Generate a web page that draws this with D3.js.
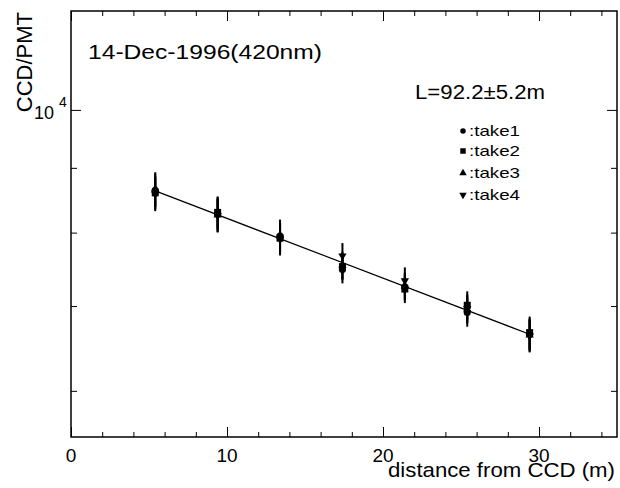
<!DOCTYPE html>
<html>
<head>
<meta charset="utf-8">
<script src="https://cdn.jsdelivr.net/npm/d3@7"></script>
<style>
  body{margin:0;background:#fff;}
  text{font-family:"Liberation Sans",Arial,Helvetica,sans-serif;fill:#000;}
</style>
</head>
<body>
<div id="chart"></div>
<script>
// distances (m) and CCD/PMT ratio for the four takes
const distances=[5.4,9.4,13.4,17.4,21.4,25.4,29.4];
const take1=[8640,8280,7950,7480,7250,6920,6650];
const take2=[8600,8300,7920,7520,7220,7010,6670];
const take3=[8660,8260,7960,7540,7260,6960,6640];
const take4=[8580,8250,7900,7670,7330,6970,6630];
const err1=[265,250,230,185,180,178,195];
const err2=[260,245,228,182,182,180,198];
const err3=[268,252,232,186,178,176,194];
const err4=[262,248,226,180,180,178,196];
const takeNames=["take1","take2","take3","take4"];

// exponential fit, L=92.2 m
const fitX=[5.4,29.4];
const fitY=[8630,6650];

const xMajor=[0,10,20,30];
const xMinor=[2,4,6,8,12,14,16,18,22,24,26,28,32,34];
const yMajor=[10000];
const yMinor=[6000,7000,8000,9000];

const w=620,h=488;
const pLeft=71,pRight=617,pTop=11,pBottom=437;

const x=d3.scaleLinear().domain([0,35]).range([pLeft,pRight]);
const y=d3.scaleLog().domain([5517,11970]).range([pBottom,pTop]);

const svg=d3.select("#chart").append("svg").attr("width",w).attr("height",h);

// frame
svg.append("rect")
   .attr("x",pLeft).attr("y",pTop)
   .attr("width",pRight-pLeft).attr("height",pBottom-pTop)
   .attr("fill","none").attr("stroke","#000").attr("stroke-width",1.5);

function tickAxis(axis, pos, vals, size){
  const g=svg.append("g").attr("transform",pos)
     .call(axis.tickValues(vals).tickSize(size).tickFormat(""));
  g.select(".domain").remove();
  g.selectAll("line").attr("stroke","#000").attr("stroke-width",1);
  return g;
}
tickAxis(d3.axisBottom(x),`translate(0,${pBottom})`,xMajor,-10);
tickAxis(d3.axisBottom(x),`translate(0,${pBottom})`,xMinor,-5);
tickAxis(d3.axisTop(x),`translate(0,${pTop})`,xMajor,-10);
tickAxis(d3.axisTop(x),`translate(0,${pTop})`,xMinor,-5);
tickAxis(d3.axisLeft(y),`translate(${pLeft},0)`,yMajor,-10);
tickAxis(d3.axisLeft(y),`translate(${pLeft},0)`,yMinor,-6);
tickAxis(d3.axisRight(y),`translate(${pRight},0)`,yMajor,-10);
tickAxis(d3.axisRight(y),`translate(${pRight},0)`,yMinor,-6);

// x tick labels
svg.selectAll(".xlab").data(xMajor).enter().append("text")
   .attr("x",d=>x(d)).attr("y",pBottom+25)
   .attr("text-anchor","middle").attr("font-size",19)
   .text(d=>d);

// y tick label 10^4
const yl=svg.append("text").attr("x",34).attr("y",y(10000)+9).attr("font-size",18);
yl.append("tspan").text("10");
yl.append("tspan").attr("x",59).attr("y",y(10000)-3).attr("font-size",14).text("4");

// axis titles
svg.append("text").attr("x",615).attr("y",477)
   .attr("text-anchor","end").attr("font-size",21)
   .attr("textLength",227).attr("lengthAdjust","spacingAndGlyphs")
   .text("distance from CCD (m)");
svg.append("text").attr("transform","translate(32,12) rotate(-90)")
   .attr("text-anchor","end").attr("font-size",22)
   .text("CCD/PMT");

svg.append("text").attr("x",88).attr("y",59).attr("font-size",21)
   .attr("textLength",234).attr("lengthAdjust","spacingAndGlyphs")
   .text("14-Dec-1996(420nm)");
svg.append("text").attr("x",415).attr("y",99).attr("font-size",20)
   .attr("textLength",130).attr("lengthAdjust","spacingAndGlyphs")
   .text("L=92.2\u00b15.2m");

// fit line
const line=d3.line().x(d=>x(d[0])).y(d=>y(d[1]));
svg.append("path").datum(fitX.map((d,i)=>[d,fitY[i]]))
   .attr("d",line).attr("fill","none").attr("stroke","#000").attr("stroke-width",1.2);

const symbols=[
  d3.symbol().type(d3.symbolCircle).size(40),
  d3.symbol().type(d3.symbolSquare).size(49),
  d3.symbol().type(d3.symbolTriangle).size(30),
  d3.symbol().type(d3.symbolTriangle).size(30)
];
const rot=[0,0,0,180];
const takes=[take1,take2,take3,take4];
const errs=[err1,err2,err3,err4];

takes.forEach((vals,k)=>{
  const pts=distances.map((d,i)=>({x:d,v:vals[i],e:errs[k][i]}));
  const g=svg.append("g");
  g.selectAll("line").data(pts).enter().append("line")
   .attr("x1",d=>x(d.x)).attr("x2",d=>x(d.x))
   .attr("y1",d=>y(d.v+d.e)).attr("y2",d=>y(d.v-d.e))
   .attr("stroke","#000").attr("stroke-width",2);
  g.selectAll("path").data(pts).enter().append("path")
   .attr("d",symbols[k])
   .attr("transform",d=>`translate(${x(d.x)},${y(d.v)}) rotate(${rot[k]})`)
   .attr("fill","#000");
});

// legend
const legY=[131,151,173,195];
const legSym=[
  d3.symbol().type(d3.symbolCircle).size(24),
  d3.symbol().type(d3.symbolSquare).size(30),
  d3.symbol().type(d3.symbolTriangle).size(24),
  d3.symbol().type(d3.symbolTriangle).size(24)
];
takeNames.forEach((n,k)=>{
  svg.append("path").attr("d",legSym[k])
     .attr("transform",`translate(463,${legY[k]}) rotate(${rot[k]})`)
     .attr("fill","#000");
  svg.append("text").attr("x",469).attr("y",legY[k]+5)
     .attr("font-size",15).attr("fill","#222")
     .attr("textLength",51).attr("lengthAdjust","spacingAndGlyphs")
     .text(":"+n);
});
</script>
</body>
</html>
